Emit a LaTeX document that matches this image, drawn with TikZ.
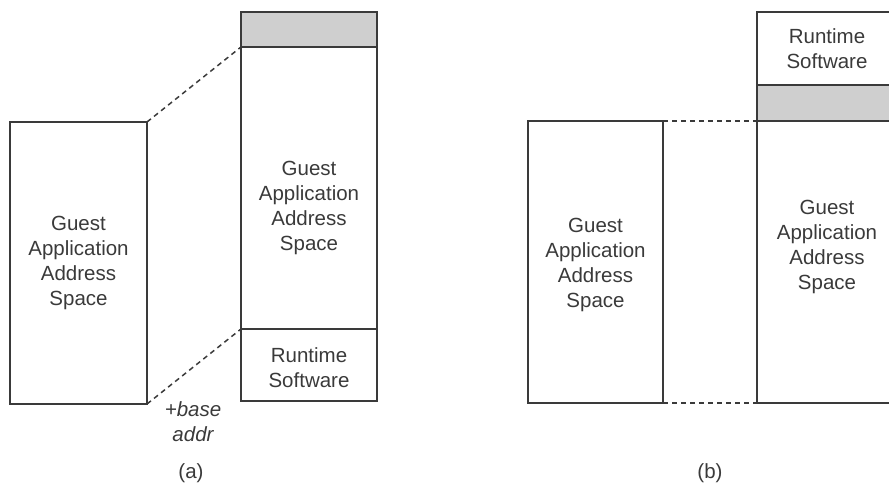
\documentclass[tikz,border=0pt]{standalone}
\usepackage{fontspec}
\setmainfont{Liberation Sans}
\definecolor{ink}{HTML}{3A3A3A}
\definecolor{band}{HTML}{CFCFCF}
\begin{document}
\begin{tikzpicture}[x=1pt,y=-1pt,
  region/.style={draw=ink,line width=1.5pt,inner sep=0pt,outer sep=0pt,rectangle},
  shaded/.style={region,fill=band},
  lbl/.style={text=ink,font=\fontsize{20.5}{25}\selectfont,align=center,inner sep=0pt},
  ilbl/.style={lbl,font=\fontsize{20.5}{25}\selectfont\itshape},
  link/.style={draw=ink,line width=1.5pt,dash pattern=on 5pt off 4pt}]
\useasboundingbox (0,0) rectangle (889,484);
\clip (0,0) rectangle (889,484);
% ---------- (a) ----------
\node[region,minimum width=137pt,minimum height=282pt] (alft) at (78.5,263) {};
\node[shaded,minimum width=136pt,minimum height=35pt] (aband) at (309,29.5) {};
\node[region,minimum width=136pt,minimum height=282pt] (aguest) at (309,188) {};
\node[region,minimum width=136pt,minimum height=72pt] (art) at (309,365) {};
\node[lbl] (alftt) at (78.5,262.5) {Guest\\Application\\Address\\Space};
\node[lbl] (aguestt) at (309,207.5) {Guest\\Application\\Address\\Space};
\node[lbl] (artt) at (309,367.5) {Runtime\\Software};
\draw[link] (alft.north east) -- (aguest.north west);
\draw[link] (alft.south east) -- (art.north west);
\node[ilbl] (base) at (193,422) {+base\\addr};
\node[lbl] (capa) at (191,473) {(a)};
% ---------- (b) ----------
\node[region,minimum width=135pt,minimum height=282pt] (blft) at (595.5,262) {};
\node[region,minimum width=140pt,minimum height=73pt] (brt) at (827,48.5) {};
\node[shaded,minimum width=140pt,minimum height=36pt] (bband) at (827,103) {};
\node[region,minimum width=140pt,minimum height=282pt] (bguest) at (827,262) {};
\node[lbl] (blftt) at (595.5,264.5) {Guest\\Application\\Address\\Space};
\node[lbl] (bguestt) at (827,246.5) {Guest\\Application\\Address\\Space};
\node[lbl] (brtt) at (827,49) {Runtime\\Software};
\draw[link] (blft.north east) -- (bguest.north west);
\draw[link] (blft.south east) -- (bguest.south west);
\node[lbl] (capb) at (710,473) {(b)};
\end{tikzpicture}
\end{document}
